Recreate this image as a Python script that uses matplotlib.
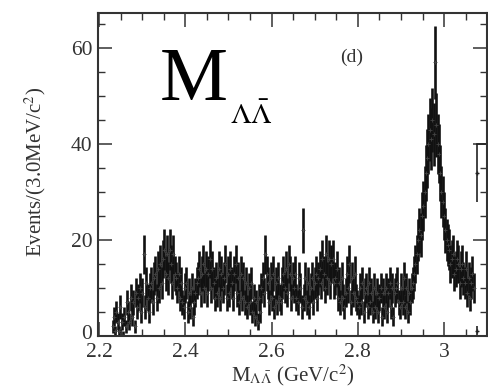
import numpy as np
import matplotlib
matplotlib.use("Agg")
import matplotlib.pyplot as plt
import matplotlib.transforms as mtransforms
from matplotlib.ticker import MultipleLocator

plt.rcParams['font.family'] = ['Liberation Serif', 'DejaVu Serif']
plt.rcParams['mathtext.fontset'] = 'stix'

# ---- data (events per 3 MeV bin) ----
bin_start = 2.2315      # centre of first bin (GeV)
bin_width = 0.003       # GeV
counts = [
    2, 4, 1, 5, 3, 1, 6, 3, 0, 4,
    2, 7, 5, 3, 8, 4, 7, 2, 9, 6,
    8, 10, 5, 9, 17, 6, 11, 8, 5, 10,
    11, 7, 12, 13, 8, 14, 10, 15, 11, 16,
    18, 13, 17, 12, 18, 15, 11, 17, 13, 12,
    10, 13, 8, 11, 7, 6, 10, 11, 5, 9,
    6, 10, 4, 7, 9, 11, 12, 14, 9, 13,
    15, 10, 14, 9, 13, 16, 10, 14, 11, 8,
    12, 9, 14, 8, 13, 10, 12, 15, 8, 13,
    9, 14, 11, 8, 13, 15, 9, 12, 7, 13,
    8, 12, 7, 11, 6, 10, 7, 11, 5, 8,
    4, 7, 3, 8, 5, 10, 12, 9, 17, 13,
    11, 7, 12, 8, 13, 6, 11, 7, 12, 8,
    7, 11, 13, 10, 14, 9, 15, 13, 8, 12,
    10, 13, 8, 7, 12, 10, 6, 22, 8, 12,
    7, 11, 6, 10, 12, 7, 11, 13, 8, 12,
    14, 11, 16, 13, 10, 17, 12, 16, 11, 15,
    16, 11, 12, 14, 8, 11, 7, 12, 8, 6,
    9, 13, 10, 15, 7, 12, 9, 13, 8, 7,
    6, 10, 7, 11, 5, 9, 10, 6, 11, 7,
    9, 5, 10, 6, 9, 5, 8, 10, 4, 9,
    6, 10, 5, 9, 11, 6, 10, 4, 9, 10,
    11, 7, 6, 10, 7, 12, 6, 10, 5, 9,
    7, 10, 11, 13, 15, 17, 20, 22, 21, 25,
    27, 30, 34, 37, 40, 43, 41, 45, 42, 57,
    44, 40, 38, 34, 30, 28, 25, 22, 20, 19,
    18, 15, 16, 17, 13, 14, 16, 15, 11, 14,
    15, 12, 11, 14, 9, 12, 8, 11, 13, 10,
]
# isolated points at the right edge
side_x = [3.0765, 3.0765]
side_y = [34, 1]
side_err = [6, 1]

x_ticks = [2.2, 2.4, 2.6, 2.8, 3.0]
x_tick_labels = ['2.2', '2.4', '2.6', '2.8', '3']
y_ticks = [0, 20, 40, 60]
y_tick_labels = ['0', '20', '40', '60']

# ---- figure ----
fig = plt.figure(figsize=(4.88, 3.90), dpi=100)
ax = fig.add_axes([98/488, 1-336/390, 389/488, 323/390])

counts = np.array(counts, dtype=float)
centres = bin_start + bin_width*np.arange(len(counts))
errs = np.sqrt(np.maximum(counts, 1))

ax.errorbar(centres, counts, yerr=errs, xerr=bin_width/2, fmt='none',
            ecolor='#111111', elinewidth=1.9, capsize=0)
ax.plot(centres, counts, '+', color='#444444', ms=3, mew=0.6)

ax.errorbar(side_x, side_y, yerr=side_err, xerr=bin_width/2, fmt='+',
            color='#222222', ms=3, elinewidth=1.2, capsize=0)
ax.plot([side_x[0], 3.2], [side_y[0]+side_err[0]]*2, color='#222222', lw=1.2)

ax.set_xlim(2.1977, 3.0992)
ax.set_ylim(0, 67.3)

ax.set_xticks(x_ticks)
ax.set_xticklabels(x_tick_labels)
ax.set_yticks(y_ticks)
ax.set_yticklabels(y_tick_labels)
ax.xaxis.set_minor_locator(MultipleLocator(0.05))
ax.yaxis.set_minor_locator(MultipleLocator(5))
ax.tick_params(which='both', direction='in', top=True, right=True,
               colors='#333333', labelcolor='#333333', labelsize=15.5)
ax.tick_params(axis='x', which='major', pad=5)
ax.tick_params(axis='y', which='major', pad=4)
ax.tick_params(which='major', length=10, width=1.1)
ax.tick_params(which='minor', length=5, width=1.0)
for s in ax.spines.values():
    s.set_linewidth(1.5)
    s.set_color('#333333')
# lift the "0" label a few pixels so it does not collide with "2.2"
lbl0 = ax.get_yticklabels()[0]
lbl0.set_transform(lbl0.get_transform() +
                   mtransforms.ScaledTranslation(0, 4/100, fig.dpi_scale_trans))

fig.text(35/488, 1-172/390, 'Events/(3.0MeV/c$^2$)', rotation=90,
         ha='center', va='center', fontsize=15, color='#333333')
fig.text(293/488, 1-375.5/390, r'M$_{\Lambda\bar{\Lambda}}$ (GeV/c$^2$)',
         ha='center', va='center', fontsize=15, color='#333333')

ax.text(0.159, 0.731, 'M', transform=ax.transAxes, fontsize=55,
        ha='left', va='baseline', color='black')
ax.text(0.339, 0.656, r'$\Lambda\bar{\Lambda}$', transform=ax.transAxes,
        fontsize=21, ha='left', va='baseline', color='black')
ax.text(0.653, 0.864, '(d)', transform=ax.transAxes, fontsize=14,
        ha='center', va='center', color='#333333')

fig.savefig('out.png', dpi=100)
